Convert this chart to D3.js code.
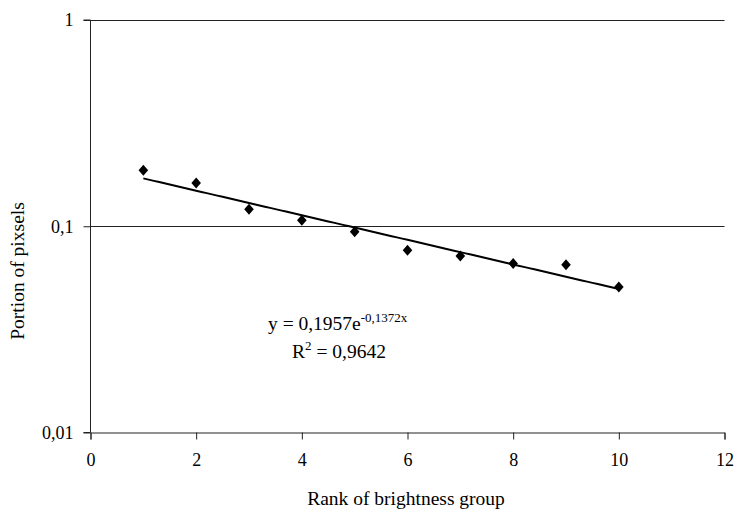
<!DOCTYPE html>
<html>
<head>
<meta charset="utf-8">
<script src="https://cdn.jsdelivr.net/npm/d3@7"></script>
<style>
  html, body { margin: 0; padding: 0; background: #fff; }
  svg { display: block; }
  text { font-family: "Liberation Serif", "Times New Roman", serif; fill: #000; }
</style>
</head>
<body>
<svg id="chart" width="736" height="511"></svg>
<script>
// Brightness-group ranks and the share of pixels in each group
const ranks = [1, 2, 3, 4, 5, 6, 7, 8, 9, 10];
const portions = [0.187, 0.162, 0.121, 0.107, 0.094, 0.0765, 0.0718, 0.066, 0.065, 0.0507];

// Exponential trend fit: y = a * e^(b x)
const trendA = 0.1957;
const trendB = -0.1372;
const trendRange = [1, 10];

const xTicks = [0, 2, 4, 6, 8, 10, 12];
const yTicks = [0.01, 0.1, 1];
const yTickLabels = ["0,01", "0,1", "1"];
const gridValues = [0.1, 1];

const svg = d3.select("#chart");
const plot = { left: 90.5, right: 724.5, top: 20, bottom: 432.5 };

const x = d3.scaleLinear().domain([0, 12]).range([plot.left, plot.right]);
const y = d3.scaleLog().domain([0.01, 1]).range([plot.bottom, plot.top]);

// Horizontal gridlines
svg.append("g").selectAll("line").data(gridValues).join("line")
  .attr("x1", plot.left).attr("x2", plot.right)
  .attr("y1", d => Math.round(y(d)) + 0.5).attr("y2", d => Math.round(y(d)) + 0.5)
  .attr("stroke", "#222").attr("stroke-width", 1);

// X axis
const xAxis = svg.append("g")
  .attr("transform", `translate(0,${plot.bottom})`)
  .call(d3.axisBottom(x).tickValues(xTicks).tickSize(7).tickPadding(14).tickFormat(d3.format("d")));
xAxis.select(".domain").attr("stroke", "#222");
xAxis.selectAll(".tick line").attr("stroke", "#222");
xAxis.selectAll("text").style("font-size", "18px").style("font-family", "Liberation Serif");

// Y axis
const yAxis = svg.append("g")
  .attr("transform", `translate(${plot.left},0)`)
  .call(d3.axisLeft(y).tickValues(yTicks).tickSize(7).tickPadding(10)
    .tickFormat((d, i) => yTickLabels[i]));
yAxis.select(".domain").attr("stroke", "#222").attr("d", `M-7,${plot.top}H0V${plot.bottom}H-7`);
yAxis.selectAll(".tick line").attr("stroke", "#222");
yAxis.selectAll("text").style("font-size", "18px").style("font-family", "Liberation Serif");

// Trend line
const trendPts = d3.range(trendRange[0], trendRange[1] + 0.001, 0.1)
  .map(v => [v, trendA * Math.exp(trendB * v)]);
svg.append("path")
  .datum(trendPts)
  .attr("fill", "none").attr("stroke", "#000").attr("stroke-width", 2)
  .attr("d", d3.line().x(d => x(d[0])).y(d => y(d[1])));

// Data markers (diamonds)
svg.append("g").selectAll("path").data(ranks).join("path")
  .attr("transform", (d, i) => `translate(${x(d)},${y(portions[i])})`)
  .attr("d", "M0,-5.5L4.8,0L0,5.5L-4.8,0Z")
  .attr("fill", "#000");

// Fit equation
const eq = svg.append("text").attr("x", 268).attr("y", 330).style("font-size", "19.5px");
eq.append("tspan").text("y = 0,1957e");
eq.append("tspan").attr("dy", -8).style("font-size", "13px").text("-0,1372x");

const r2 = svg.append("text").attr("x", 292).attr("y", 358).style("font-size", "19.5px");
r2.append("tspan").text("R");
r2.append("tspan").attr("dy", -8).style("font-size", "13px").text("2");
r2.append("tspan").attr("dy", 8).text(" = 0,9642");

// Axis titles
svg.append("text").attr("x", 406).attr("y", 505).attr("text-anchor", "middle")
  .style("font-size", "19.5px").text("Rank of brightness group");
svg.append("text").attr("transform", "translate(24,271) rotate(-90)").attr("text-anchor", "middle")
  .style("font-size", "19.5px").text("Portion of pixsels");
</script>
</body>
</html>
